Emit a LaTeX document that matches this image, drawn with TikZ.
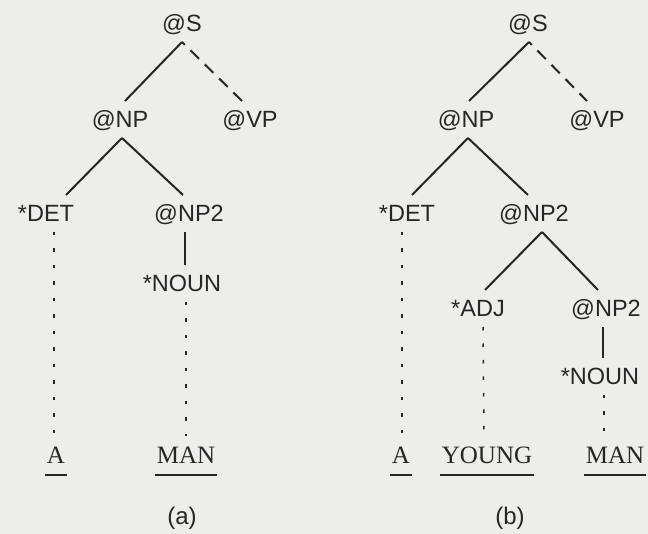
\documentclass[tikz,border=0pt]{standalone}
\usepackage{fontspec}
\setmainfont{Liberation Serif}
\setsansfont{Liberation Sans}
\usepackage{tikz}
\definecolor{paper}{RGB}{237,237,235}
\definecolor{ink}{RGB}{38,38,38}

\begin{document}
\begin{tikzpicture}[x=1pt,y=-1pt,
  cat/.style={anchor=base,inner sep=0pt,outer xsep=0pt,outer ysep=10pt,
    text height=17pt,text depth=0pt,text=ink,font=\sffamily\fontsize{23.5}{24}\selectfont},
  word/.style={anchor=base,inner xsep=2pt,inner ysep=0pt,outer xsep=0pt,outer ysep=11pt,
    text height=17pt,text depth=0pt,text=ink,font=\rmfamily\fontsize{25}{25}\selectfont},
  caption/.style={anchor=base,inner sep=0pt,text=ink,font=\sffamily\fontsize{24}{24}\selectfont},
  branch/.style={draw=ink,line width=2pt},
  open/.style={branch,dash pattern=on 12pt off 8pt,dash phase=8pt},
  trace/.style={draw=ink,line width=1.5pt,dash pattern=on 3.5pt off 13pt},
  uline/.style={draw=ink,line width=1.5pt}]
 \fill[paper](0,0) rectangle (648,534);
 \useasboundingbox (0,0) rectangle (648,534);

 % tree (a)
 \node[cat] (Sa) at (182,32) {@S};
 \node[cat] (NPa) at (120,128) {@NP};
 \node[cat] (VPa) at (250,128) {@VP};
 \node[cat] (DETa) at (46,222) {*DET};
 \node[cat] (NP2a) at (189,222) {@NP2};
 \node[cat] (NOUNa) at (182,292) {*NOUN};
 \node[word] (Aa) at (56,464) {A};
 \node[word] (MANa) at (186,464) {MAN};
 \node[caption] (capa) at (182,524) {(a)};

 \draw[branch](Sa.south)--([xshift=5pt]NPa.north);
 \draw[open](Sa.south)--([xshift=-8pt]VPa.north);
 \draw[branch]([xshift=2pt]NPa.south)--([xshift=20pt]DETa.north);
 \draw[branch]([xshift=2pt]NPa.south)--([xshift=-6pt]NP2a.north);
 \draw[branch]([xshift=-4pt]NP2a.south)--([xshift=3pt]NOUNa.north);
 \draw[trace]([xshift=8pt]DETa.south)--([xshift=-2pt]Aa.north);
 \draw[trace]([xshift=4pt]NOUNa.south)--(MANa.north);

 % tree (b)
 \node[cat] (Sb) at (528,32) {@S};
 \node[cat] (NPb) at (466,128) {@NP};
 \node[cat] (VPb) at (597,128) {@VP};
 \node[cat] (DETb) at (407,222) {*DET};
 \node[cat] (NP2b) at (534,222) {@NP2};
 \node[cat] (ADJb) at (478,317) {*ADJ};
 \node[cat] (NP2c) at (606,317) {@NP2};
 \node[cat] (NOUNb) at (600,385) {*NOUN};
 \node[word] (Ab) at (401,464) {A};
 \node[word] (YOUNGb) at (487,464) {YOUNG};
 \node[word] (MANb) at (615,464) {MAN};
 \node[caption] (capb) at (510,524) {(b)};

 \draw[branch]([xshift=1pt]Sb.south)--([xshift=3pt]NPb.north);
 \draw[open]([xshift=1pt]Sb.south)--([xshift=-10pt]VPb.north);
 \draw[branch]([xshift=2pt]NPb.south)--([xshift=5pt]DETb.north);
 \draw[branch]([xshift=2pt]NPb.south)--([xshift=-6pt]NP2b.north);
 \draw[branch]([xshift=8pt]NP2b.south)--([xshift=7pt]ADJb.north);
 \draw[branch]([xshift=8pt]NP2b.south)--([xshift=-8pt]NP2c.north);
 \draw[branch]([xshift=-3pt]NP2c.south)--([xshift=3pt]NOUNb.north);
 \draw[trace]([xshift=-5pt]DETb.south)--([xshift=1pt]Ab.north);
 \draw[trace]([xshift=5pt]ADJb.south)--([xshift=-3pt]YOUNGb.north);
 \draw[trace]([xshift=4pt]NOUNb.south)--([xshift=-11pt]MANb.north);

 % underlined words
 \foreach \w in {Aa,MANa,Ab,YOUNGb,MANb}
  \draw[uline](\w.south west)--(\w.south east);
\end{tikzpicture}
\end{document}
